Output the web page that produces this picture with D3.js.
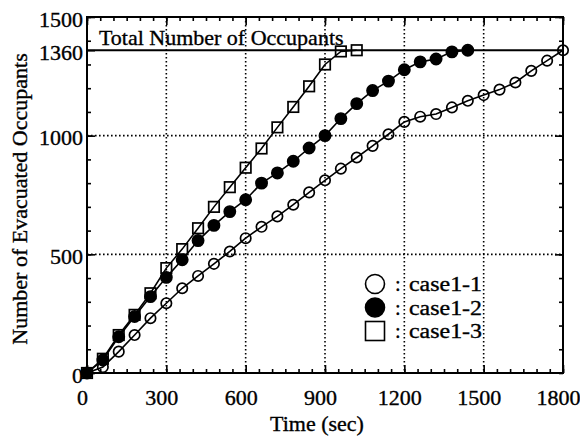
<!DOCTYPE html>
<html>
<head>
<meta charset="utf-8">
<script src="https://cdn.jsdelivr.net/npm/d3@7"></script>
<style>
  html, body { margin: 0; padding: 0; background: #fff; }
  svg { display: block; }
  text { font-family: "Liberation Serif", "Times New Roman", serif; fill: #000;
         stroke: #000; stroke-width: 0.35px; }
</style>
</head>
<body>
<svg id="chart" width="580" height="441"></svg>
<script>
// Evacuation progress: cumulative evacuated occupants over time, sampled every 60 s
const timesCase1 = d3.range(0, 1801, 60);
const case1_1 = [0, 25, 90, 160, 231, 294, 357, 409, 460, 512, 568, 616, 660, 709, 761, 812,
                 861, 908, 957, 1006, 1058, 1080, 1091, 1119, 1147, 1171, 1194, 1224, 1273, 1316, 1360];
const timesCase2 = d3.range(0, 1441, 60);
const case1_2 = [0, 55, 153, 238, 322, 403, 477, 558, 622, 680, 730, 800, 843, 892, 948, 1000,
                 1072, 1135, 1190, 1230, 1278, 1311, 1323, 1353, 1360];
const timesCase3 = d3.range(0, 1021, 60);
const case1_3 = [0, 60, 160, 245, 336, 442, 522, 610, 700, 783, 865, 946, 1035, 1121, 1208, 1300,
                 1355, 1360];

const seriesNames = ["case1-1", "case1-2", "case1-3"];
const totalOccupants = 1360;
const totalLabel = "Total Number of Occupants";

const xTicks = [0, 300, 600, 900, 1200, 1500, 1800];
const yTicks = [0, 500, 1000, 1360, 1500];
const xGrid = [300, 600, 900, 1200, 1500];
const yGrid = [500, 1000];
const xTitle = "Time (sec)";
const yTitle = "Number of Evacuated Occupants";

const svg = d3.select("#chart");
const plotL = 87, plotR = 563, plotT = 17, plotB = 373;

const x = d3.scaleLinear().domain([0, 1800]).range([plotL, plotR]);
const y = d3.scaleLinear().domain([0, 1500]).range([plotB, plotT]);

const FS = 22;

// dotted grid
const grid = svg.append("g").attr("stroke", "#000").attr("stroke-width", 1.6)
  .attr("stroke-dasharray", "1.6,2.4").attr("fill", "none");
grid.selectAll("line.gx").data(xGrid).join("line")
  .attr("x1", d => x(d)).attr("x2", d => x(d)).attr("y1", plotT).attr("y2", plotB);
grid.selectAll("line.gy").data(yGrid).join("line")
  .attr("y1", d => y(d)).attr("y2", d => y(d)).attr("x1", plotL).attr("x2", plotR);

// total occupants reference line
svg.append("line")
  .attr("x1", plotL).attr("x2", plotR)
  .attr("y1", y(totalOccupants)).attr("y2", y(totalOccupants))
  .attr("stroke", "#000").attr("stroke-width", 2);
svg.append("text")
  .attr("x", x(45)).attr("y", y(totalOccupants) - 5)
  .attr("font-size", FS).text(totalLabel);

// axes: inward ticks on all four sides
function styleAxis(g) {
  g.select(".domain").remove();
  g.selectAll(".tick line").attr("stroke", "#000").attr("stroke-width", 1.6);
}
const minorX = d3.range(0, 1801, 50);
const minorY = d3.range(0, 1501, 100);

svg.append("g").attr("transform", `translate(0,${plotB})`)
  .call(d3.axisBottom(x).tickValues(minorX).tickSize(-4).tickFormat(""))
  .call(styleAxis);
svg.append("g").attr("transform", `translate(0,${plotT})`)
  .call(d3.axisTop(x).tickValues(minorX).tickSize(-4).tickFormat(""))
  .call(styleAxis);
svg.append("g").attr("transform", `translate(0,${plotT})`)
  .call(d3.axisTop(x).tickValues(xTicks).tickSize(-8).tickFormat(""))
  .call(styleAxis);
const xAxis = svg.append("g").attr("transform", `translate(0,${plotB})`)
  .call(d3.axisBottom(x).tickValues(xTicks).tickSize(-8).tickPadding(16).tickFormat(d3.format("d")))
  .call(styleAxis);
xAxis.selectAll("text").attr("font-size", FS).attr("font-family", "Liberation Serif")
  .attr("dx", -5);

svg.append("g").attr("transform", `translate(${plotL},0)`)
  .call(d3.axisLeft(y).tickValues(minorY).tickSize(-4).tickFormat(""))
  .call(styleAxis);
svg.append("g").attr("transform", `translate(${plotR},0)`)
  .call(d3.axisRight(y).tickValues(minorY).tickSize(-4).tickFormat(""))
  .call(styleAxis);
svg.append("g").attr("transform", `translate(${plotR},0)`)
  .call(d3.axisRight(y).tickValues([500, 1000, 1500]).tickSize(-8).tickFormat(""))
  .call(styleAxis);
const yAxis = svg.append("g").attr("transform", `translate(${plotL},0)`)
  .call(d3.axisLeft(y).tickValues(yTicks).tickSize(-8).tickPadding(4).tickFormat(d3.format("d")))
  .call(styleAxis);
yAxis.selectAll("text").attr("font-size", FS).attr("font-family", "Liberation Serif")
  .attr("dy", "0.42em");

// frame
svg.append("rect").attr("x", plotL).attr("y", plotT)
  .attr("width", plotR - plotL).attr("height", plotB - plotT)
  .attr("fill", "none").attr("stroke", "#000").attr("stroke-width", 2);

// axis titles
svg.append("text").attr("x", 317).attr("y", 431).attr("text-anchor", "middle")
  .attr("font-size", FS).text(xTitle);
svg.append("text").attr("transform", "translate(27,199) rotate(-90)")
  .attr("text-anchor", "middle").attr("font-size", FS).text(yTitle);

// series
const series = [
  { name: seriesNames[0], t: timesCase1, v: case1_1, shape: "circle", fill: "none" },
  { name: seriesNames[1], t: timesCase2, v: case1_2, shape: "circle", fill: "#000" },
  { name: seriesNames[2], t: timesCase3, v: case1_3, shape: "square", fill: "none" }
];

const line = d3.line().x(d => x(d[0])).y(d => y(d[1]));

series.forEach(s => {
  const pts = s.t.map((t, i) => [t, s.v[i]]);
  const g = svg.append("g");
  g.append("path").datum(pts).attr("d", line)
    .attr("fill", "none").attr("stroke", "#000").attr("stroke-width", 1.6);
  if (s.shape === "circle") {
    g.selectAll("circle").data(pts).join("circle")
      .attr("cx", d => x(d[0])).attr("cy", d => y(d[1]))
      .attr("r", s.fill === "none" ? 5.2 : 5.6)
      .attr("fill", s.fill).attr("stroke", "#000").attr("stroke-width", 1.7);
  } else {
    const a = 10.5;
    g.selectAll("rect").data(pts).join("rect")
      .attr("x", d => x(d[0]) - a / 2).attr("y", d => y(d[1]) - a / 2)
      .attr("width", a).attr("height", a)
      .attr("fill", "none").attr("stroke", "#000").attr("stroke-width", 1.7);
  }
});

// legend
const LFS = 20.5;
const legend = svg.append("g");
const legY = [284, 307.5, 331];
series.forEach((s, i) => {
  const cy = legY[i];
  if (s.shape === "circle") {
    legend.append("circle").attr("cx", 375).attr("cy", cy).attr("r", 9.5)
      .attr("fill", s.fill).attr("stroke", "#000").attr("stroke-width", 1.6);
  } else {
    legend.append("rect").attr("x", 375 - 9.5).attr("y", cy - 9.5)
      .attr("width", 19).attr("height", 19)
      .attr("fill", "none").attr("stroke", "#000").attr("stroke-width", 1.6);
  }
  legend.append("text").attr("x", 395).attr("y", cy + 7).attr("font-size", LFS).text(":");
  legend.append("text").attr("x", 409).attr("y", cy + 7).attr("font-size", LFS)
    .attr("textLength", 73).attr("lengthAdjust", "spacingAndGlyphs").text(s.name);
});
</script>
</body>
</html>
